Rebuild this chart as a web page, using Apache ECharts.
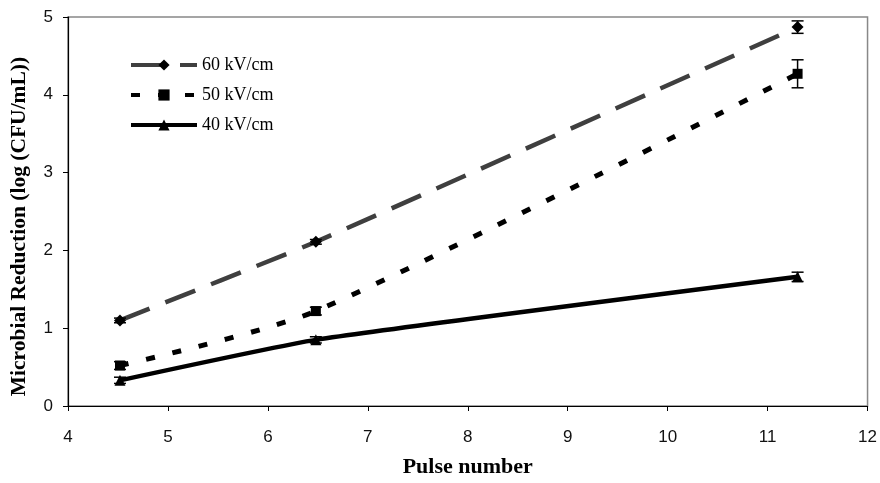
<!DOCTYPE html>
<html>
<head>
<meta charset="utf-8">
<script src="https://cdn.jsdelivr.net/npm/echarts@6/dist/echarts.min.js"></script>
<style>
html,body{margin:0;padding:0;background:#fff;}
#chart{width:880px;height:483px;}
</style>
</head>
<body>
<div id="chart"></div>
<script>
// Data
var seriesNames = ['60 kV/cm', '50 kV/cm', '40 kV/cm'];
var pulses = [4.52, 6.48, 11.30];
var kv60 = [1.10, 2.11, 4.87];
var kv50 = [0.52, 1.22, 4.27];
var kv40 = [0.33, 0.85, 1.66];
var err60 = [0.03, 0.03, 0.08];
var err50 = [0.05, 0.05, 0.18];
var err40 = [0.04, 0.04, 0.06];
var xTicks = [4, 5, 6, 7, 8, 9, 10, 11, 12];
var yTicks = [0, 1, 2, 3, 4, 5];

function pts(xs, ys) { return xs.map(function (x, i) { return [x, ys[i]]; }); }
function errPts(xs, ys, es) { return xs.map(function (x, i) { return [x, ys[i] - es[i], ys[i] + es[i]]; }); }

function errRender(params, api) {
  var x = api.value(0);
  var lo = api.coord([x, api.value(1)]);
  var hi = api.coord([x, api.value(2)]);
  var hw = 6;
  var st = { stroke: '#000', lineWidth: 1.5 };
  return {
    type: 'group',
    children: [
      { type: 'line', shape: { x1: lo[0], y1: lo[1], x2: hi[0], y2: hi[1] }, style: st },
      { type: 'line', shape: { x1: lo[0] - hw, y1: lo[1], x2: lo[0] + hw, y2: lo[1] }, style: st },
      { type: 'line', shape: { x1: hi[0] - hw, y1: hi[1], x2: hi[0] + hw, y2: hi[1] }, style: st }
    ]
  };
}

var chart = echarts.init(document.getElementById('chart'), null, { renderer: 'canvas' });
var serif = '"Liberation Serif", "Times New Roman", serif';
var sans = '"Liberation Sans", Arial, sans-serif';

chart.setOption({
  animation: false,
  backgroundColor: '#fff',
  grid: { left: 67, right: 8, top: 17, bottom: 75, show: true, borderColor: '#888', borderWidth: 1.5 },
  legend: {
    orient: 'vertical', left: 124, top: 51,
    itemWidth: 66, itemHeight: 14, itemGap: 12,
    lineStyle: { width: 4 },
    textStyle: { fontFamily: serif, fontSize: 18, color: '#000' },
    data: seriesNames
  },
  xAxis: {
    type: 'value', min: xTicks[0], max: xTicks[xTicks.length - 1], interval: 1,
    name: 'Pulse number', nameLocation: 'middle', nameGap: 50,
    nameTextStyle: { fontFamily: serif, fontWeight: 'bold', fontSize: 22, color: '#000' },
    axisLine: { show: true, lineStyle: { color: '#000', width: 1.2 } },
    axisTick: { show: true, length: 5, lineStyle: { color: '#000' } },
    axisLabel: { fontFamily: sans, fontSize: 17, color: '#111', margin: 23,
      formatter: function (v) { return xTicks.indexOf(v) >= 0 ? String(v) : ''; } },
    splitLine: { show: false }
  },
  yAxis: {
    type: 'value', min: yTicks[0], max: yTicks[yTicks.length - 1], interval: 1,
    name: 'Microbial Reduction (log (CFU/mL))', nameLocation: 'middle', nameGap: 38, nameRotate: 90,
    nameTextStyle: { fontFamily: serif, fontWeight: 'bold', fontSize: 21.5, color: '#000', padding: [0, 30, 0, 0] },
    axisLine: { show: true, lineStyle: { color: '#000', width: 1.2 } },
    axisTick: { show: true, length: 5, lineStyle: { color: '#000' } },
    axisLabel: { fontFamily: sans, fontSize: 17, color: '#111', margin: 15,
      formatter: function (v) { return yTicks.indexOf(v) >= 0 ? String(v) : ''; } },
    splitLine: { show: false }
  },
  series: [
    {
      name: seriesNames[0], type: 'line', data: pts(pulses, kv60), smooth: 0.15,
      symbol: 'diamond', symbolSize: 12, z: 3,
      itemStyle: { color: '#000' },
      lineStyle: { color: '#3f3f3f', width: 4.5, type: [32, 17] }
    },
    {
      name: seriesNames[1], type: 'line', data: pts(pulses, kv50), smooth: 0.25,
      symbol: 'rect', symbolSize: 10, z: 3,
      itemStyle: { color: '#000' },
      lineStyle: { color: '#000', width: 5, type: [9, 18] }
    },
    {
      name: seriesNames[2], type: 'line', data: pts(pulses, kv40), smooth: 0.15,
      symbol: 'triangle', symbolSize: 11, z: 3,
      itemStyle: { color: '#000' },
      lineStyle: { color: '#000', width: 4.5, type: 'solid' }
    },
    { type: 'custom', renderItem: errRender, data: errPts(pulses, kv60, err60), z: 4, silent: true },
    { type: 'custom', renderItem: errRender, data: errPts(pulses, kv50, err50), z: 4, silent: true },
    { type: 'custom', renderItem: errRender, data: errPts(pulses, kv40, err40), z: 4, silent: true }
  ]
});
</script>
</body>
</html>
